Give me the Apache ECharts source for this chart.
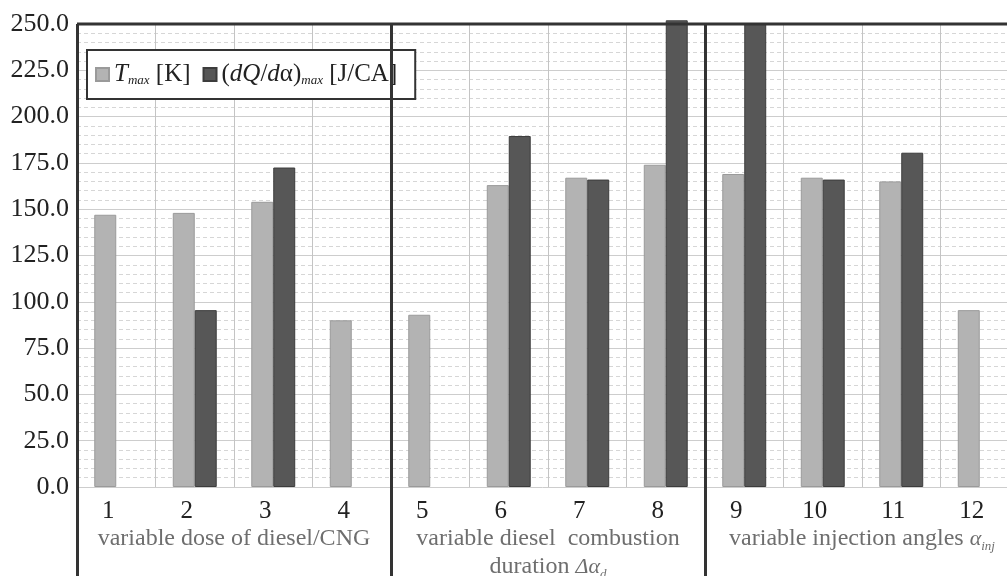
<!DOCTYPE html>
<html>
<head>
<meta charset="utf-8">
<script src="https://cdn.jsdelivr.net/npm/echarts@6/dist/echarts.min.js"></script>
<style>
  html, body { margin: 0; padding: 0; background: #fff; }
  #chart { width: 1007px; height: 576px; }
</style>
</head>
<body>
<div id="chart"></div>
<script>
// Tmax and (dQ/dα)max per test case, grouped in threes
const categories = ['1', '2', '3', '4', '5', '6', '7', '8', '9', '10', '11', '12'];
const tmaxValues = [147, 148, 154, 90, 93, 163, 167, 174, 169, 167, 165, 95.5];
const dqdaValues = [null, 95.5, 172.5, null, null, 189.5, 166, 252, 250, 166, 180.5, null];
const groupNames = [
  'variable dose of diesel/CNG',
  'variable diesel  combustion\nduration {i|Δα}{s|d}',
  'variable injection angles {i|α}{s|inj}'
];
const groupSize = 4;
const yTicks = { min: 0, max: 250, interval: 25 };

const serif = '"Liberation Serif", "DejaVu Serif", serif';

const chartDom = document.getElementById('chart');
const myChart = echarts.init(chartDom);

const option = {
  backgroundColor: '#fff',
  animation: false,
  textStyle: { fontFamily: serif },
  grid: {
    left: 77, top: 24, width: 942, height: 463,
    outerBoundsMode: 'none'
  },
  legend: {
    left: 87, top: 50,
    orient: 'horizontal',
    icon: 'rect',
    itemWidth: 13, itemHeight: 13,
    itemGap: 12,
    padding: [12, 18, 12, 8],
    backgroundColor: '#fff',
    borderColor: '#333',
    borderWidth: 2,
    data: ['Tmax', 'dQda'],
    formatter: name => name === 'Tmax'
      ? '{i|T}{s|max} [K]'
      : '({i|dQ}/{i|d}α){s|max} [J/CA]',
    textStyle: {
      fontFamily: serif, fontSize: 25, color: '#222',
      rich: {
        i: { fontFamily: serif, fontSize: 25, fontStyle: 'italic', color: '#222' },
        s: { fontFamily: serif, fontSize: 13, fontStyle: 'italic', color: '#222', verticalAlign: 'bottom', padding: [9, 0, 0, 0] }
      }
    }
  },
  xAxis: [{
    type: 'category',
    data: categories,
    axisLine: { show: false },
    axisTick: { show: false },
    axisLabel: {
      color: '#222', fontSize: 25, fontFamily: serif,
      margin: 12, padding: [0, 16, 0, 0]
    },
    splitLine: { show: true, lineStyle: { color: '#c4c4c4', width: 1 } }
  }, {
    type: 'category',
    data: groupNames,
    position: 'bottom',
    offset: 30,
    axisLine: { show: false },
    axisTick: { show: false },
    splitLine: { show: false },
    axisLabel: {
      color: '#6e6e6e', fontSize: 24, fontFamily: serif, lineHeight: 28,
      interval: 0,
      rich: {
        i: { fontFamily: serif, fontSize: 22, fontStyle: 'italic', color: '#6e6e6e' },
        s: { fontFamily: serif, fontSize: 13, fontStyle: 'italic', color: '#6e6e6e', verticalAlign: 'bottom', padding: [8, 0, 0, 0] }
      }
    }
  }],
  yAxis: {
    type: 'value',
    min: yTicks.min, max: yTicks.max, interval: yTicks.interval,
    axisLine: { show: false },
    axisTick: { show: false },
    axisLabel: {
      color: '#222', fontSize: 26, fontFamily: serif, margin: 8,
      formatter: v => v.toFixed(1)
    },
    splitLine: { lineStyle: { color: '#cdcdcd', width: 1 } },
    minorTick: { show: false, splitNumber: 5 },
    minorSplitLine: { show: true, lineStyle: { color: '#d6d6d6', type: [4, 3], width: 1 } }
  },
  series: [{
    name: 'Tmax',
    type: 'bar',
    data: tmaxValues,
    barWidth: '28%',
    barGap: '0%',
    clip: false,
    itemStyle: { color: '#b3b3b3', borderColor: '#9a9a9a', borderWidth: 1 }
  }, {
    name: 'dQda',
    type: 'bar',
    data: dqdaValues,
    barWidth: '28%',
    barGap: '0%',
    clip: false,
    itemStyle: { color: '#575757', borderColor: '#3c3c3c', borderWidth: 1 }
  }]
};

myChart.setOption(option);

// frame and group separators, placed from the axis scales
const centers = categories.map((c, i) => myChart.convertToPixel({ xAxisIndex: 0 }, i));
const band = centers[1] - centers[0];
const edge = i => centers[i] - band / 2;
const yTop = myChart.convertToPixel({ yAxisIndex: 0 }, yTicks.max);
const W = myChart.getWidth();
const H = myChart.getHeight();

const frameStyle = { stroke: '#333', lineWidth: 3 };
const lines = [];
for (let g = 0; g < categories.length; g += groupSize) {
  const x = Math.round(edge(g)) + 0.5;
  lines.push({ type: 'line', z: 10, shape: { x1: x, y1: yTop, x2: x, y2: H }, style: frameStyle });
}
lines.push({ type: 'line', z: 10, shape: { x1: edge(0), y1: yTop, x2: W, y2: yTop }, style: frameStyle });

myChart.setOption({ graphic: lines });
</script>
</body>
</html>
